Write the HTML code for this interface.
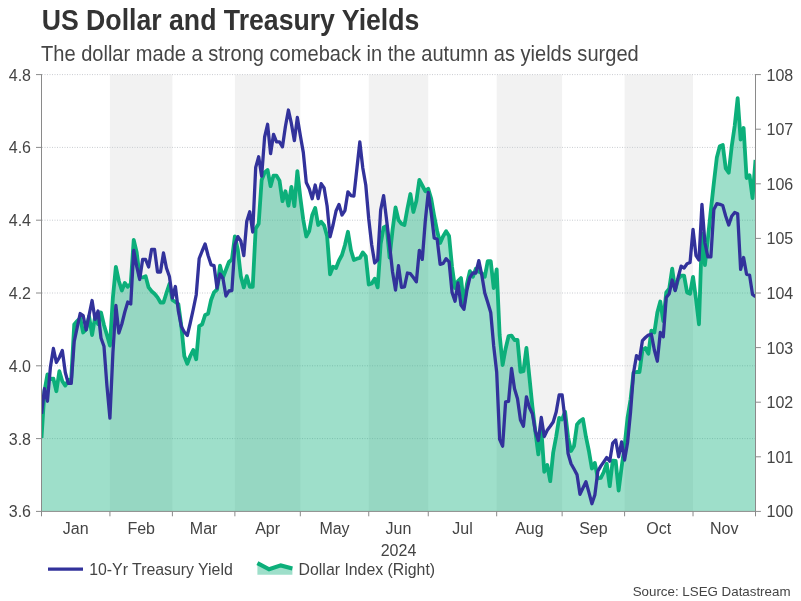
<!DOCTYPE html>
<html><head><meta charset="utf-8"><title>US Dollar and Treasury Yields</title>
<style>html,body{margin:0;padding:0;background:#fff}body{width:801px;height:601px;overflow:hidden}svg{display:block;will-change:transform}text{font-family:"Liberation Sans",sans-serif;fill:#444444}</style></head><body>
<svg width="801" height="601" viewBox="0 0 801 601">
<rect width="801" height="601" fill="#ffffff"/>
<text transform="translate(41.7,29.9) scale(0.924,1)" font-size="28.85" font-weight="bold" style="fill:#333333">US Dollar and Treasury Yields</text>
<text transform="translate(41,60.8) scale(0.938,1)" font-size="21.4" style="fill:#464646">The dollar made a strong comeback in the autumn as yields surged</text>
<rect x="109.92" y="74.6" width="62.48" height="436.79999999999995" fill="#f2f2f2"/>
<rect x="234.88" y="74.6" width="65.45" height="436.79999999999995" fill="#f2f2f2"/>
<rect x="368.75" y="74.6" width="59.50" height="436.79999999999995" fill="#f2f2f2"/>
<rect x="496.68" y="74.6" width="65.45" height="436.79999999999995" fill="#f2f2f2"/>
<rect x="624.60" y="74.6" width="68.42" height="436.79999999999995" fill="#f2f2f2"/>
<line x1="42.0" y1="438.60" x2="755.5" y2="438.60" stroke="#c9ccd1" stroke-width="1" stroke-dasharray="1,1.5"/>
<line x1="42.0" y1="365.80" x2="755.5" y2="365.80" stroke="#c9ccd1" stroke-width="1" stroke-dasharray="1,1.5"/>
<line x1="42.0" y1="293.00" x2="755.5" y2="293.00" stroke="#c9ccd1" stroke-width="1" stroke-dasharray="1,1.5"/>
<line x1="42.0" y1="220.20" x2="755.5" y2="220.20" stroke="#c9ccd1" stroke-width="1" stroke-dasharray="1,1.5"/>
<line x1="42.0" y1="147.40" x2="755.5" y2="147.40" stroke="#c9ccd1" stroke-width="1" stroke-dasharray="1,1.5"/>
<line x1="42.0" y1="74.60" x2="755.5" y2="74.60" stroke="#c9ccd1" stroke-width="1" stroke-dasharray="1,1.5"/>
<clipPath id="c"><rect x="41.5" y="72.6" width="714.0" height="438.79999999999995"/></clipPath>
<g clip-path="url(#c)">
<path d="M41.50,438.00 L44.48,391.00 L47.45,374.40 L50.42,379.00 L53.40,378.70 L56.38,391.20 L59.35,371.20 L62.33,381.20 L65.30,385.60 L68.28,380.50 L71.25,378.00 L74.22,324.50 L77.20,321.00 L80.18,318.00 L83.15,332.50 L86.12,329.50 L89.10,316.20 L92.08,335.00 L95.05,317.00 L98.03,324.00 L101.00,312.50 L103.97,325.00 L106.95,335.00 L109.92,345.60 L112.90,297.50 L115.88,266.80 L118.85,281.00 L121.83,290.50 L124.80,283.00 L127.78,286.80 L130.75,283.70 L133.73,240.00 L136.70,252.50 L139.68,276.70 L142.65,277.40 L145.62,276.20 L148.60,287.40 L151.57,291.20 L154.55,293.70 L157.53,297.40 L160.50,302.50 L163.48,302.50 L166.45,293.00 L169.43,284.00 L172.40,300.00 L175.38,302.00 L178.35,304.00 L181.33,326.00 L184.30,356.00 L187.28,363.70 L190.25,356.00 L193.22,350.00 L196.20,359.30 L199.18,326.20 L202.15,324.30 L205.12,315.00 L208.10,313.70 L211.08,300.00 L214.05,292.30 L217.03,289.50 L220.00,265.70 L222.97,277.50 L225.95,269.80 L228.93,262.00 L231.90,259.50 L234.88,236.30 L237.85,250.00 L240.83,276.20 L243.80,287.40 L246.78,276.20 L249.75,286.80 L252.72,286.80 L255.70,228.50 L258.68,223.70 L261.65,180.00 L264.62,172.50 L267.60,170.00 L270.58,186.20 L273.55,175.60 L276.52,175.60 L279.50,180.60 L282.48,201.20 L285.45,191.20 L288.43,205.60 L291.40,186.80 L294.38,206.20 L297.35,171.20 L300.32,197.50 L303.30,220.00 L306.28,236.50 L309.25,231.00 L312.23,215.00 L315.20,208.00 L318.18,225.00 L321.15,221.80 L324.12,225.50 L327.10,236.00 L330.07,274.30 L333.05,266.80 L336.03,268.00 L339.00,260.50 L341.98,255.00 L344.95,245.00 L347.93,231.80 L350.90,250.00 L353.88,260.00 L356.85,258.70 L359.82,258.00 L362.80,252.50 L365.78,256.20 L368.75,284.50 L371.73,283.50 L374.70,278.70 L377.68,287.40 L380.65,244.00 L383.62,227.50 L386.60,226.00 L389.57,257.50 L392.55,230.00 L395.53,207.50 L398.50,220.00 L401.48,223.70 L404.45,225.00 L407.43,208.70 L410.40,194.00 L413.38,212.00 L416.35,201.00 L419.32,180.00 L422.30,185.50 L425.28,191.20 L428.25,188.70 L431.23,198.70 L434.20,216.20 L437.18,231.20 L440.15,243.00 L443.12,236.20 L446.10,231.20 L449.07,236.00 L452.05,267.00 L455.03,288.00 L458.00,281.00 L460.98,278.00 L463.95,305.00 L466.93,284.00 L469.90,271.20 L472.88,276.80 L475.85,268.70 L478.82,271.70 L481.80,273.40 L484.78,276.80 L487.75,261.20 L490.73,261.20 L493.70,288.00 L496.68,269.30 L499.65,335.00 L502.62,365.00 L505.60,348.70 L508.57,336.20 L511.55,335.60 L514.53,340.00 L517.50,340.00 L520.48,371.80 L523.45,371.20 L526.42,348.00 L529.40,377.00 L532.38,406.50 L535.35,431.50 L538.33,454.40 L541.30,429.00 L544.28,471.80 L547.25,465.00 L550.23,481.20 L553.20,452.50 L556.18,436.50 L559.15,418.00 L562.12,419.50 L565.10,411.80 L568.08,437.30 L571.05,451.00 L574.02,446.00 L577.00,424.50 L579.98,421.00 L582.95,419.00 L585.93,436.70 L588.90,451.00 L591.88,468.50 L594.85,463.00 L597.83,478.50 L600.80,478.00 L603.77,472.00 L606.75,463.70 L609.73,486.20 L612.70,460.60 L615.68,461.00 L618.65,490.50 L621.62,467.00 L624.60,446.00 L627.58,417.50 L630.55,399.50 L633.52,372.50 L636.50,372.00 L639.48,372.00 L642.45,350.00 L645.43,348.00 L648.40,353.70 L651.38,330.60 L654.35,332.50 L657.33,312.50 L660.30,301.50 L663.27,321.00 L666.25,292.40 L669.23,288.70 L672.20,268.70 L675.18,289.80 L678.15,279.00 L681.12,275.60 L684.10,275.60 L687.08,292.40 L690.05,293.70 L693.02,276.80 L696.00,299.00 L698.98,324.30 L701.95,233.50 L704.93,265.00 L707.90,238.40 L710.88,210.00 L713.85,183.00 L716.83,157.50 L719.80,146.20 L722.77,145.00 L725.75,168.50 L728.73,172.70 L731.70,146.60 L734.68,126.00 L737.65,98.10 L740.62,139.50 L743.60,128.00 L746.58,178.00 L749.55,175.20 L752.52,198.00 L755.50,160.00 L755.5,511.4 L41.5,511.4 Z" fill="#0caf7a" fill-opacity="0.4"/>
<path d="M41.50,438.00 L44.48,391.00 L47.45,374.40 L50.42,379.00 L53.40,378.70 L56.38,391.20 L59.35,371.20 L62.33,381.20 L65.30,385.60 L68.28,380.50 L71.25,378.00 L74.22,324.50 L77.20,321.00 L80.18,318.00 L83.15,332.50 L86.12,329.50 L89.10,316.20 L92.08,335.00 L95.05,317.00 L98.03,324.00 L101.00,312.50 L103.97,325.00 L106.95,335.00 L109.92,345.60 L112.90,297.50 L115.88,266.80 L118.85,281.00 L121.83,290.50 L124.80,283.00 L127.78,286.80 L130.75,283.70 L133.73,240.00 L136.70,252.50 L139.68,276.70 L142.65,277.40 L145.62,276.20 L148.60,287.40 L151.57,291.20 L154.55,293.70 L157.53,297.40 L160.50,302.50 L163.48,302.50 L166.45,293.00 L169.43,284.00 L172.40,300.00 L175.38,302.00 L178.35,304.00 L181.33,326.00 L184.30,356.00 L187.28,363.70 L190.25,356.00 L193.22,350.00 L196.20,359.30 L199.18,326.20 L202.15,324.30 L205.12,315.00 L208.10,313.70 L211.08,300.00 L214.05,292.30 L217.03,289.50 L220.00,265.70 L222.97,277.50 L225.95,269.80 L228.93,262.00 L231.90,259.50 L234.88,236.30 L237.85,250.00 L240.83,276.20 L243.80,287.40 L246.78,276.20 L249.75,286.80 L252.72,286.80 L255.70,228.50 L258.68,223.70 L261.65,180.00 L264.62,172.50 L267.60,170.00 L270.58,186.20 L273.55,175.60 L276.52,175.60 L279.50,180.60 L282.48,201.20 L285.45,191.20 L288.43,205.60 L291.40,186.80 L294.38,206.20 L297.35,171.20 L300.32,197.50 L303.30,220.00 L306.28,236.50 L309.25,231.00 L312.23,215.00 L315.20,208.00 L318.18,225.00 L321.15,221.80 L324.12,225.50 L327.10,236.00 L330.07,274.30 L333.05,266.80 L336.03,268.00 L339.00,260.50 L341.98,255.00 L344.95,245.00 L347.93,231.80 L350.90,250.00 L353.88,260.00 L356.85,258.70 L359.82,258.00 L362.80,252.50 L365.78,256.20 L368.75,284.50 L371.73,283.50 L374.70,278.70 L377.68,287.40 L380.65,244.00 L383.62,227.50 L386.60,226.00 L389.57,257.50 L392.55,230.00 L395.53,207.50 L398.50,220.00 L401.48,223.70 L404.45,225.00 L407.43,208.70 L410.40,194.00 L413.38,212.00 L416.35,201.00 L419.32,180.00 L422.30,185.50 L425.28,191.20 L428.25,188.70 L431.23,198.70 L434.20,216.20 L437.18,231.20 L440.15,243.00 L443.12,236.20 L446.10,231.20 L449.07,236.00 L452.05,267.00 L455.03,288.00 L458.00,281.00 L460.98,278.00 L463.95,305.00 L466.93,284.00 L469.90,271.20 L472.88,276.80 L475.85,268.70 L478.82,271.70 L481.80,273.40 L484.78,276.80 L487.75,261.20 L490.73,261.20 L493.70,288.00 L496.68,269.30 L499.65,335.00 L502.62,365.00 L505.60,348.70 L508.57,336.20 L511.55,335.60 L514.53,340.00 L517.50,340.00 L520.48,371.80 L523.45,371.20 L526.42,348.00 L529.40,377.00 L532.38,406.50 L535.35,431.50 L538.33,454.40 L541.30,429.00 L544.28,471.80 L547.25,465.00 L550.23,481.20 L553.20,452.50 L556.18,436.50 L559.15,418.00 L562.12,419.50 L565.10,411.80 L568.08,437.30 L571.05,451.00 L574.02,446.00 L577.00,424.50 L579.98,421.00 L582.95,419.00 L585.93,436.70 L588.90,451.00 L591.88,468.50 L594.85,463.00 L597.83,478.50 L600.80,478.00 L603.77,472.00 L606.75,463.70 L609.73,486.20 L612.70,460.60 L615.68,461.00 L618.65,490.50 L621.62,467.00 L624.60,446.00 L627.58,417.50 L630.55,399.50 L633.52,372.50 L636.50,372.00 L639.48,372.00 L642.45,350.00 L645.43,348.00 L648.40,353.70 L651.38,330.60 L654.35,332.50 L657.33,312.50 L660.30,301.50 L663.27,321.00 L666.25,292.40 L669.23,288.70 L672.20,268.70 L675.18,289.80 L678.15,279.00 L681.12,275.60 L684.10,275.60 L687.08,292.40 L690.05,293.70 L693.02,276.80 L696.00,299.00 L698.98,324.30 L701.95,233.50 L704.93,265.00 L707.90,238.40 L710.88,210.00 L713.85,183.00 L716.83,157.50 L719.80,146.20 L722.77,145.00 L725.75,168.50 L728.73,172.70 L731.70,146.60 L734.68,126.00 L737.65,98.10 L740.62,139.50 L743.60,128.00 L746.58,178.00 L749.55,175.20 L752.52,198.00 L755.50,160.00" fill="none" stroke="#0caf7a" stroke-width="3.8" stroke-linejoin="round" stroke-linecap="butt"/>
<path d="M41.50,413.70 L44.48,388.70 L47.45,401.20 L50.42,367.00 L53.40,348.50 L56.38,362.50 L59.35,357.50 L62.33,350.50 L65.30,372.50 L68.28,383.30 L71.25,383.30 L74.22,341.50 L77.20,327.50 L80.18,313.50 L83.15,315.60 L86.12,330.00 L89.10,315.00 L92.08,300.50 L95.05,319.40 L98.03,311.00 L101.00,338.00 L103.97,346.20 L106.95,386.00 L109.92,418.10 L112.90,353.00 L115.88,305.50 L118.85,333.00 L121.83,324.00 L124.80,312.00 L127.78,302.00 L130.75,304.00 L133.73,250.50 L136.70,266.50 L139.68,279.50 L142.65,259.50 L145.62,259.50 L148.60,267.00 L151.57,249.40 L154.55,249.40 L157.53,272.00 L160.50,272.00 L163.48,253.00 L166.45,268.00 L169.43,276.50 L172.40,298.00 L175.38,286.50 L178.35,311.00 L181.33,326.50 L184.30,332.00 L187.28,335.50 L190.25,323.00 L193.22,309.50 L196.20,295.00 L199.18,258.50 L202.15,251.00 L205.12,244.00 L208.10,255.50 L211.08,264.80 L214.05,265.70 L217.03,288.00 L220.00,274.00 L222.97,278.50 L225.95,296.00 L228.93,291.00 L231.90,290.50 L234.88,245.00 L237.85,236.60 L240.83,241.00 L243.80,255.60 L246.78,221.20 L249.75,211.80 L252.72,232.00 L255.70,167.40 L258.68,156.80 L261.65,176.20 L264.62,137.00 L267.60,124.30 L270.58,153.70 L273.55,134.30 L276.52,141.80 L279.50,141.80 L282.48,146.80 L285.45,126.20 L288.43,110.00 L291.40,123.70 L294.38,140.60 L297.35,117.50 L300.32,135.60 L303.30,152.40 L306.28,182.50 L309.25,188.70 L312.23,198.70 L315.20,185.00 L318.18,198.70 L321.15,183.70 L324.12,188.00 L327.10,206.00 L330.07,236.80 L333.05,225.00 L336.03,211.00 L339.00,204.40 L341.98,215.00 L344.95,210.60 L347.93,191.80 L350.90,195.60 L353.88,196.00 L356.85,169.00 L359.82,141.90 L362.80,168.00 L365.78,185.00 L368.75,219.00 L371.73,245.00 L374.70,263.00 L377.68,259.80 L380.65,210.00 L383.62,195.60 L386.60,220.00 L389.57,245.00 L392.55,272.00 L395.53,290.00 L398.50,265.60 L401.48,287.40 L404.45,286.80 L407.43,273.00 L410.40,273.70 L413.38,277.50 L416.35,281.80 L419.32,250.30 L422.30,259.40 L425.28,221.00 L428.25,192.50 L431.23,213.00 L434.20,238.00 L437.18,239.30 L440.15,264.30 L443.12,263.50 L446.10,258.70 L449.07,261.80 L452.05,292.40 L455.03,301.20 L458.00,283.00 L460.98,305.00 L463.95,309.30 L466.93,290.00 L469.90,277.40 L472.88,273.00 L475.85,273.00 L478.82,260.60 L481.80,275.00 L484.78,293.00 L487.75,302.40 L490.73,312.50 L493.70,346.00 L496.68,372.00 L499.65,439.40 L502.62,446.20 L505.60,401.80 L508.57,401.30 L511.55,368.50 L514.53,388.70 L517.50,398.70 L520.48,420.00 L523.45,426.20 L526.42,396.80 L529.40,407.50 L532.38,413.70 L535.35,431.20 L538.33,440.50 L541.30,417.50 L544.28,436.50 L547.25,430.30 L550.23,426.30 L553.20,422.00 L556.18,412.00 L559.15,395.00 L562.12,395.00 L565.10,420.00 L568.08,453.50 L571.05,463.70 L574.02,469.00 L577.00,474.60 L579.98,494.30 L582.95,488.00 L585.93,481.80 L588.90,492.40 L591.88,503.70 L594.85,495.00 L597.83,471.20 L600.80,466.20 L603.77,461.80 L606.75,457.50 L609.73,461.20 L612.70,443.10 L615.68,440.00 L618.65,456.80 L621.62,441.90 L624.60,460.00 L627.58,442.50 L630.55,412.00 L633.52,373.00 L636.50,355.60 L639.48,359.30 L642.45,340.60 L645.43,337.50 L648.40,335.00 L651.38,334.30 L654.35,350.00 L657.33,361.20 L660.30,332.50 L663.27,336.80 L666.25,297.50 L669.23,293.70 L672.20,280.00 L675.18,290.60 L678.15,277.50 L681.12,266.20 L684.10,268.00 L687.08,263.70 L690.05,262.50 L693.02,229.30 L696.00,255.60 L698.98,260.00 L701.95,204.30 L704.93,243.00 L707.90,256.90 L710.88,256.90 L713.85,209.50 L716.83,203.70 L719.80,204.30 L722.77,205.60 L725.75,216.20 L728.73,225.00 L731.70,216.20 L734.68,212.50 L737.65,213.70 L740.62,269.30 L743.60,257.50 L746.58,274.30 L749.55,275.00 L752.52,294.50 L755.50,296.80" fill="none" stroke="#32329b" stroke-width="3.3" stroke-linejoin="round" stroke-linecap="butt"/>
</g>
<g stroke="#8a8a8a" stroke-width="1" fill="none">
<line x1="41.5" y1="74.1" x2="41.5" y2="511.9"/>
<line x1="755.5" y1="74.1" x2="755.5" y2="511.9"/>
<line x1="41.5" y1="511.4" x2="755.5" y2="511.4"/>
<line x1="36.0" y1="511.4" x2="41.5" y2="511.4"/>
<line x1="36.0" y1="438.59999999999997" x2="41.5" y2="438.59999999999997"/>
<line x1="36.0" y1="365.79999999999995" x2="41.5" y2="365.79999999999995"/>
<line x1="36.0" y1="293.0" x2="41.5" y2="293.0"/>
<line x1="36.0" y1="220.2" x2="41.5" y2="220.2"/>
<line x1="36.0" y1="147.39999999999998" x2="41.5" y2="147.39999999999998"/>
<line x1="36.0" y1="74.60000000000002" x2="41.5" y2="74.60000000000002"/>
<line x1="755.5" y1="511.4" x2="760.9" y2="511.4"/>
<line x1="755.5" y1="456.79999999999995" x2="760.9" y2="456.79999999999995"/>
<line x1="755.5" y1="402.2" x2="760.9" y2="402.2"/>
<line x1="755.5" y1="347.6" x2="760.9" y2="347.6"/>
<line x1="755.5" y1="293.0" x2="760.9" y2="293.0"/>
<line x1="755.5" y1="238.39999999999998" x2="760.9" y2="238.39999999999998"/>
<line x1="755.5" y1="183.8" x2="760.9" y2="183.8"/>
<line x1="755.5" y1="129.20000000000005" x2="760.9" y2="129.20000000000005"/>
<line x1="755.5" y1="74.60000000000002" x2="760.9" y2="74.60000000000002"/>
<line x1="41.5" y1="511.4" x2="41.5" y2="516.3"/>
<line x1="109.925" y1="511.4" x2="109.925" y2="516.3"/>
<line x1="172.4" y1="511.4" x2="172.4" y2="516.3"/>
<line x1="234.875" y1="511.4" x2="234.875" y2="516.3"/>
<line x1="300.325" y1="511.4" x2="300.325" y2="516.3"/>
<line x1="368.75" y1="511.4" x2="368.75" y2="516.3"/>
<line x1="428.25" y1="511.4" x2="428.25" y2="516.3"/>
<line x1="496.675" y1="511.4" x2="496.675" y2="516.3"/>
<line x1="562.125" y1="511.4" x2="562.125" y2="516.3"/>
<line x1="624.6" y1="511.4" x2="624.6" y2="516.3"/>
<line x1="693.025" y1="511.4" x2="693.025" y2="516.3"/>
<line x1="755.5" y1="511.4" x2="755.5" y2="516.3"/>
</g>
<text x="31" y="517.4" font-size="16" text-anchor="end">3.6</text>
<text x="31" y="444.6" font-size="16" text-anchor="end">3.8</text>
<text x="31" y="371.8" font-size="16" text-anchor="end">4.0</text>
<text x="31" y="299.0" font-size="16" text-anchor="end">4.2</text>
<text x="31" y="226.2" font-size="16" text-anchor="end">4.4</text>
<text x="31" y="153.4" font-size="16" text-anchor="end">4.6</text>
<text x="31" y="80.6" font-size="16" text-anchor="end">4.8</text>
<text x="766.5" y="517.4" font-size="16">100</text>
<text x="766.5" y="462.8" font-size="16">101</text>
<text x="766.5" y="408.2" font-size="16">102</text>
<text x="766.5" y="353.6" font-size="16">103</text>
<text x="766.5" y="299.0" font-size="16">104</text>
<text x="766.5" y="244.4" font-size="16">105</text>
<text x="766.5" y="189.8" font-size="16">106</text>
<text x="766.5" y="135.2" font-size="16">107</text>
<text x="766.5" y="80.6" font-size="16">108</text>
<text x="75.7" y="533.7" font-size="16" text-anchor="middle">Jan</text>
<text x="141.2" y="533.7" font-size="16" text-anchor="middle">Feb</text>
<text x="203.6" y="533.7" font-size="16" text-anchor="middle">Mar</text>
<text x="267.6" y="533.7" font-size="16" text-anchor="middle">Apr</text>
<text x="334.5" y="533.7" font-size="16" text-anchor="middle">May</text>
<text x="398.5" y="533.7" font-size="16" text-anchor="middle">Jun</text>
<text x="462.5" y="533.7" font-size="16" text-anchor="middle">Jul</text>
<text x="529.4" y="533.7" font-size="16" text-anchor="middle">Aug</text>
<text x="593.4" y="533.7" font-size="16" text-anchor="middle">Sep</text>
<text x="658.8" y="533.7" font-size="16" text-anchor="middle">Oct</text>
<text x="724.3" y="533.7" font-size="16" text-anchor="middle">Nov</text>
<text x="398.5" y="555.7" font-size="16" text-anchor="middle">2024</text>
<line x1="48" y1="569.1" x2="83" y2="569.1" stroke="#32329b" stroke-width="3.3"/>
<text x="89.2" y="574.5" font-size="15.85">10-Yr Treasury Yield</text>
<path d="M257.4,563.1 L269.1,569.3 L280.8,565.4 L292.4,568.4 L292.4,574.7 L257.4,574.7 Z" fill="#0caf7a" fill-opacity="0.4"/>
<path d="M257.4,563.1 L269.1,569.3 L280.8,565.4 L292.4,568.4" fill="none" stroke="#0caf7a" stroke-width="4.1" stroke-linejoin="miter"/>
<text x="298.6" y="574.5" font-size="15.85">Dollar Index (Right)</text>
<text x="790.5" y="595.7" font-size="13.33" text-anchor="end">Source: LSEG Datastream</text>
</svg></body></html>
